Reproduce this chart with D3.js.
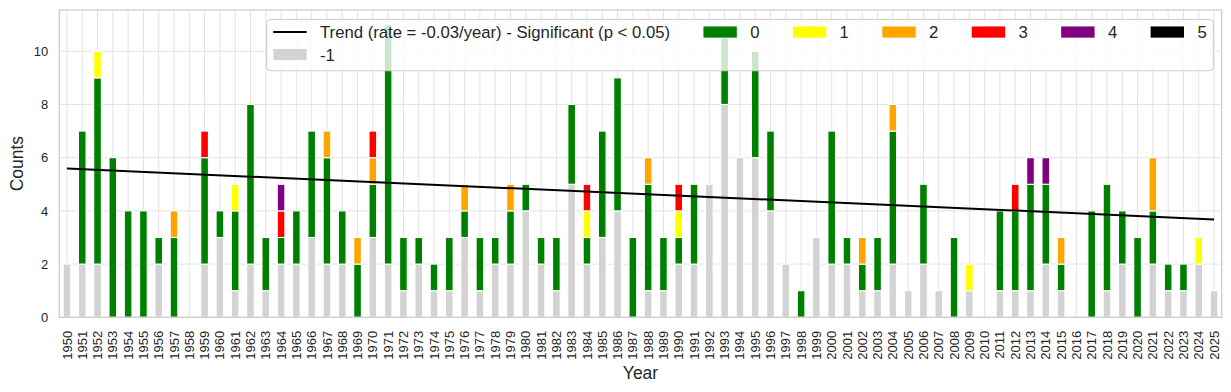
<!DOCTYPE html>
<html>
<head>
<meta charset="utf-8">
<script src="https://cdn.jsdelivr.net/npm/d3@7"></script>
<style>
  body { margin: 0; background: #fff; }
  svg { display: block; font-family: "Liberation Sans", Arial, sans-serif; }
</style>
</head>
<body>
<svg id="chart" width="1231" height="392"></svg>
<script>
// ---------------- data ----------------
const years = d3.range(1950, 2026).map(String);
const categories = ["-1", "0", "1", "2", "3", "4", "5"];
const colors = ["#d3d3d3", "#008000", "#ffff00", "#ffa500", "#ff0000", "#800080", "#000000"];

const catNeg1 = [2,2,2,0,0,0,2,0,0,2, 3,1,2,1,2,2,3,2,2,0, 3,2,1,2,1,1,3,1,2,2,
                 4,2,1,5,2,3,4,0,1,1, 2,2,5,8,6,6,4,2,0,3, 2,2,1,1,2,1,2,1,0,1,
                 0,1,1,1,2,1,0,0,1,2, 0,2,1,1,2,1];
const cat0    = [0,5,7,6,4,4,1,3,0,4, 1,3,6,2,1,2,4,4,2,2, 2,9,2,1,1,2,1,2,1,2,
                 1,1,2,3,1,4,5,3,4,2, 1,3,0,2.5,0,4,3,0,1,0, 5,1,1,2,5,0,3,0,3,0,
                 0,3,3,4,3,1,0,4,4,2, 3,2,1,1,0,0];
const cat1    = [0,0,1,0,0,0,0,0,0,0, 0,1,0,0,0,0,0,0,0,0, 0,0,0,0,0,0,0,0,0,0,
                 0,0,0,0,1,0,0,0,0,0, 1,0,0,0,0,0,0,0,0,0, 0,0,0,0,0,0,0,0,0,1,
                 0,0,0,0,0,0,0,0,0,0, 0,0,0,0,1,0];
const cat2    = [0,0,0,0,0,0,0,1,0,0, 0,0,0,0,0,0,0,1,0,1, 1,0,0,0,0,0,1,0,0,1,
                 0,0,0,0,0,0,0,0,1,0, 0,0,0,0,0,0,0,0,0,0, 0,0,1,0,1,0,0,0,0,0,
                 0,0,0,0,0,1,0,0,0,0, 0,2,0,0,0,0];
const cat3    = [0,0,0,0,0,0,0,0,0,1, 0,0,0,0,1,0,0,0,0,0, 1,0,0,0,0,0,0,0,0,0,
                 0,0,0,0,1,0,0,0,0,0, 1,0,0,0,0,0,0,0,0,0, 0,0,0,0,0,0,0,0,0,0,
                 0,0,1,0,0,0,0,0,0,0, 0,0,0,0,0,0];
const cat4    = [0,0,0,0,0,0,0,0,0,0, 0,0,0,0,1,0,0,0,0,0, 0,0,0,0,0,0,0,0,0,0,
                 0,0,0,0,0,0,0,0,0,0, 0,0,0,0,0,0,0,0,0,0, 0,0,0,0,0,0,0,0,0,0,
                 0,0,0,1,1,0,0,0,0,0, 0,0,0,0,0,0];
const cat5    = [0,0,0,0,0,0,0,0,0,0, 0,0,0,0,0,0,0,0,0,0, 0,0,0,0,0,0,0,0,0,0,
                 0,0,0,0,0,0,0,0,0,0, 0,0,0,0,0,0,0,0,0,0, 0,0,0,0,0,0,0,0,0,0,
                 0,0,0,0,0,0,0,0,0,0, 0,0,0,0,0,0];

const yTicks = [0, 2, 4, 6, 8, 10];
const trendLabel = "Trend (rate = -0.03/year) - Significant (p < 0.05)";
const trendStart = 5.59;   // value at 1950
const trendEnd = 3.68;     // value at 2025

// --------------- layout ---------------
const W = 1231, H = 392;
const m = { left: 59.3, right: 9.3, top: 10, bottom: 74.7 };
const plotL = m.left, plotR = W - m.right, plotT = m.top, plotB = H - m.bottom;

const series = [catNeg1, cat0, cat1, cat2, cat3, cat4, cat5];
const table = years.map((y, i) => {
  const row = { year: y };
  categories.forEach((c, k) => row[c] = series[k][i]);
  return row;
});
const stacked = d3.stack().keys(categories)(table);
const yMax = d3.max(table, d => d3.sum(categories, c => d[c])) * 1.05;

const x = d3.scaleBand().domain(years).range([plotL, plotR]).padding(0);
const y = d3.scaleLinear().domain([0, yMax]).range([plotB, plotT]);
const bw = x.bandwidth();

const svg = d3.select("#chart");
const textColor = "#262626";
const gridColor = "#e3e3e3";

// grid
const grid = svg.append("g");
grid.selectAll("line.v").data(years).join("line")
  .attr("x1", d => x(d) + bw / 2).attr("x2", d => x(d) + bw / 2)
  .attr("y1", plotT).attr("y2", plotB)
  .attr("stroke", gridColor).attr("stroke-width", 1);
grid.selectAll("line.h").data(yTicks).join("line")
  .attr("x1", plotL).attr("x2", plotR)
  .attr("y1", d => y(d)).attr("y2", d => y(d))
  .attr("stroke", gridColor).attr("stroke-width", 1);

// bars
const barW = bw * 0.5;
svg.append("g").selectAll("g").data(stacked).join("g")
  .attr("fill", (d, k) => colors[k])
  .selectAll("rect").data(d => d.filter(s => s[1] - s[0] > 0)).join("rect")
  .attr("x", d => x(d.data.year) + (bw - barW) / 2)
  .attr("width", barW)
  .attr("y", d => y(d[1]))
  .attr("height", d => y(d[0]) - y(d[1]))
  .attr("stroke", "#fff").attr("stroke-width", 1.1);

// trend line
const trendPts = [[years[0], trendStart], [years[years.length - 1], trendEnd]];
svg.append("path")
  .attr("d", d3.line().x(d => x(d[0]) + bw / 2).y(d => y(d[1]))(trendPts))
  .attr("stroke", "#000").attr("stroke-width", 2).attr("fill", "none");

// spines
svg.append("rect")
  .attr("x", plotL).attr("y", plotT).attr("width", plotR - plotL).attr("height", plotB - plotT)
  .attr("fill", "none").attr("stroke", "#cccccc").attr("stroke-width", 1.25);

// axes
const yAxis = svg.append("g").attr("transform", `translate(${plotL},0)`)
  .call(d3.axisLeft(y).tickValues(yTicks).tickSize(0).tickPadding(11).tickFormat(d3.format("d")));
yAxis.select(".domain").remove();
yAxis.selectAll("text").attr("font-size", 13).attr("fill", textColor).attr("font-family", "Liberation Sans, Arial, sans-serif");

const xAxis = svg.append("g").attr("transform", `translate(0,${plotB})`)
  .call(d3.axisBottom(x).tickSize(0));
xAxis.select(".domain").remove();
xAxis.selectAll("text")
  .attr("transform", "rotate(-90)")
  .attr("x", -13.5).attr("y", 0).attr("dy", "0.35em")
  .style("text-anchor", "end")
  .attr("font-size", 13).attr("fill", textColor).attr("font-family", "Liberation Sans, Arial, sans-serif");

// axis labels
svg.append("text").attr("x", (plotL + plotR) / 2).attr("y", 378.5)
  .attr("text-anchor", "middle").attr("font-size", 17.5).attr("fill", textColor).text("Year");
svg.append("text").attr("transform", `translate(22.5,${(plotT + plotB) / 2}) rotate(-90)`)
  .attr("text-anchor", "middle").attr("font-size", 17.5).attr("fill", textColor).text("Counts");

// legend (matplotlib-like, ncol = 7, column-major fill)
const fs = 16.7;
const handleLen = 2 * fs, handlePad = 0.8 * fs, colSpace = 2 * fs, borderPad = 0.4 * fs, axPad = 0.5 * fs;
const rowGap = 22.5;
const items = [{ type: "line", label: trendLabel, color: "#000" }]
  .concat(categories.map((c, k) => ({ type: "patch", label: c, color: colors[k] })));
// first column: Trend, -1 ; following columns: 0..5
const colItems = [[items[0], items[1]]];
for (let k = 2; k < items.length; k++) colItems.push([items[k]]);
const legendG = svg.append("g");
const measure = svg.append("text").attr("font-size", fs).attr("visibility", "hidden");
const textW = s => { measure.text(s); return measure.node().getComputedTextLength(); };
const colWidths = colItems.map(col => handleLen + handlePad + d3.max(col, it => textW(it.label)));
measure.remove();
const legW = 2 * borderPad + d3.sum(colWidths) + colSpace * (colItems.length - 1);
const legH = 51.4;
const legR = plotR - axPad, legT = plotT + axPad + 1;
const legL = legR - legW;
legendG.append("rect")
  .attr("x", legL).attr("y", legT).attr("width", legW).attr("height", legH)
  .attr("rx", 3.5).attr("ry", 3.5)
  .attr("fill", "#fff").attr("fill-opacity", 0.8)
  .attr("stroke", "#cccccc").attr("stroke-width", 1);
let cx = legL + borderPad;
colItems.forEach((col, ci) => {
  col.forEach((it, ri) => {
    const cy = legT + 12.7 + ri * rowGap;
    if (it.type === "line") {
      legendG.append("line").attr("x1", cx).attr("x2", cx + handleLen)
        .attr("y1", cy).attr("y2", cy).attr("stroke", it.color).attr("stroke-width", 2);
    } else {
      legendG.append("rect").attr("x", cx).attr("y", cy - 5.6)
        .attr("width", handleLen).attr("height", 11.2).attr("fill", it.color);
    }
    legendG.append("text").attr("x", cx + handleLen + handlePad).attr("y", cy)
      .attr("dy", "0.36em").attr("font-size", fs).attr("fill", textColor).text(it.label);
  });
  cx += colWidths[ci] + colSpace;
});
</script>
</body>
</html>
